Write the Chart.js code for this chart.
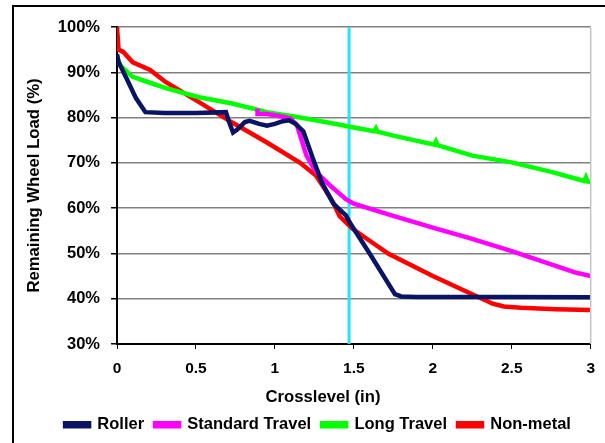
<!DOCTYPE html>
<html>
<head>
<meta charset="utf-8">
<script src="https://cdn.jsdelivr.net/npm/chart.js@4.4.1/dist/chart.umd.min.js"></script>
<style>
    html, body { margin: 0; padding: 0; background: #fff; overflow: hidden; }
    #wrap { position: relative; width: 605px; height: 443px; }
    #frame { position: absolute; left: 12px; top: 5px; width: 620px; height: 460px; border: 2px solid #000; pointer-events: none; }
</style>
</head>
<body>
<div id="wrap">
    <canvas id="chart" width="605" height="443"></canvas>
    <div id="frame"></div>
</div>
<script>
// crosslevel (in) vs remaining wheel load (%)
const rollerX = [0, 0.01, 0.06, 0.12, 0.18, 0.3, 0.5, 0.69, 0.71, 0.735, 0.76, 0.81, 0.84, 0.9, 0.95, 1.0, 1.05, 1.09, 1.13, 1.18, 1.24, 1.3, 1.37, 1.45, 1.48, 1.6, 1.76, 1.8, 1.9, 2.5, 3.0];
const rollerY = [94, 92.3, 88.7, 84.3, 81.2, 81, 81, 81.2, 79, 76.7, 77.3, 79, 79.3, 78.6, 78.2, 78.6, 79.2, 79.4, 78.6, 77, 71, 65.5, 61, 58.4, 56.5, 50, 41, 40.5, 40.4, 40.4, 40.3];

const standardX = [0.89, 0.89, 0.95, 1.0, 1.05, 1.1, 1.14, 1.2, 1.26, 1.35, 1.45, 1.5, 1.75, 2.0, 2.25, 2.5, 2.75, 2.9, 3.0];
const standardY = [82, 80.8, 80.8, 80.5, 80.2, 79.8, 78.3, 71.6, 68, 65, 62, 61, 58.3, 55.7, 53.2, 50.5, 47.6, 45.8, 45];

const longX = [0, 0.02, 0.1, 0.2, 0.31, 0.52, 0.73, 0.95, 1.16, 1.37, 1.5, 1.63, 1.64, 1.65, 1.75, 2.01, 2.02, 2.03, 2.25, 2.5, 2.75, 2.96, 2.97, 2.98, 3.0];
const longY = [93.4, 91.5, 89, 87.8, 86.5, 84.5, 83.1, 81.2, 80, 78.7, 77.8, 77, 77.6, 76.9, 76, 74, 74.7, 73.9, 71.6, 70.1, 68, 66, 66.8, 65.9, 65.7];

const nonMetalX = [0, 0.01, 0.04, 0.1, 0.21, 0.31, 0.52, 0.73, 0.95, 1.16, 1.26, 1.32, 1.37, 1.41, 1.49, 1.6, 1.72, 2.0, 2.25, 2.38, 2.45, 2.56, 2.78, 3.0];
const nonMetalY = [100, 95, 94.5, 92.2, 90.5, 87.8, 83.4, 78.9, 74.5, 70, 67.2, 64, 61.2, 58.2, 55.5, 52.8, 49.9, 45, 41, 38.9, 38.3, 38, 37.7, 37.5];

const markerX = [1.47, 1.47];
const markerY = [30, 100];

const xTicks = [0, 0.5, 1, 1.5, 2, 2.5, 3];
const xTickLabels = ['0', '0.5', '1', '1.5', '2', '2.5', '3'];
const yTicks = [30, 40, 50, 60, 70, 80, 90, 100];
const yTickLabels = ['30%', '40%', '50%', '60%', '70%', '80%', '90%', '100%'];

const xTitle = 'Crosslevel (in)';
const yTitle = 'Remaining Wheel Load (%)';

function points(xs, ys) {
    return xs.map((x, i) => ({ x, y: ys[i] }));
}

function line(label, xs, ys, color, width) {
    return {
        label,
        data: points(xs, ys),
        borderColor: color,
        backgroundColor: color,
        borderWidth: width,
        pointRadius: 0,
        tension: 0,
        fill: false
    };
}

const FONT = "'Liberation Sans', Arial, sans-serif";

// right edge of the plot + x axis title (sits a bit left of centre in the original)
const extras = {
    id: 'extras',
    afterLayout(chart) {
        chart.legend.left += 12;
        chart.legend.right += 12;
    },
    afterDraw(chart) {
        const a = chart.chartArea;
        const c = chart.ctx;
        c.save();
        c.strokeStyle = '#c4c4c4';
        c.lineWidth = 1.5;
        c.beginPath();
        c.moveTo(a.right, a.top);
        c.lineTo(a.right, a.bottom);
        c.stroke();
        c.fillStyle = '#000';
        c.font = 'bold 16.7px ' + FONT;
        c.textAlign = 'center';
        c.textBaseline = 'middle';
        c.fillText(xTitle, a.left + 206, a.bottom + 53);
        c.restore();
    }
};

new Chart(document.getElementById('chart').getContext('2d'), {
    type: 'line',
    data: {
        datasets: [
            line('Roller', rollerX, rollerY, '#0a1464', 4.5),
            line('Standard Travel', standardX, standardY, '#ff00ff', 4.5),
            line('Long Travel', longX, longY, '#00ff00', 4.5),
            line('Non-metal', nonMetalX, nonMetalY, '#ff0000', 4.5),
            line('marker', markerX, markerY, '#22e4ff', 3)
        ]
    },
    options: {
        responsive: false,
        animation: false,
        layout: { padding: { left: 20, right: 13, top: 27, bottom: 0 } },
        scales: {
            x: {
                type: 'linear',
                min: 0,
                max: 3,
                afterBuildTicks: s => { s.ticks = xTicks.map(v => ({ value: v })); },
                ticks: {
                    callback: (v) => xTickLabels[xTicks.indexOf(v)],
                    color: '#000',
                    font: { family: FONT, size: 15.5, weight: 'bold' },
                    padding: 10,
                    maxRotation: 0
                },
                grid: { drawOnChartArea: false, drawTicks: true, tickLength: 5, tickColor: '#000' },
                border: { color: '#000', width: 2 },
                afterFit: s => { s.height = 61.5; }
            },
            y: {
                min: 30,
                max: 100,
                afterBuildTicks: s => { s.ticks = yTicks.map(v => ({ value: v })); },
                ticks: {
                    callback: (v) => yTickLabels[yTicks.indexOf(v)],
                    color: '#000',
                    font: { family: FONT, size: 16.5, weight: 'bold' },
                    padding: 11
                },
                grid: { color: '#808080', lineWidth: 1.5, drawTicks: true, tickLength: 6, tickColor: '#000' },
                border: { color: '#000', width: 2 },
                title: {
                    display: true,
                    text: yTitle,
                    color: '#000',
                    font: { family: FONT, size: 16.7, weight: 'bold' },
                    padding: { top: 4, bottom: 0 }
                },
                afterFit: s => { s.width = 97; }
            }
        },
        plugins: {
            legend: {
                position: 'bottom',
                labels: {
                    filter: item => item.text !== 'marker',
                    color: '#000',
                    font: { family: FONT, size: 16.5, weight: 'bold' },
                    boxWidth: 24,
                    boxHeight: 3,
                    padding: 11
                }
            },
            tooltip: { enabled: false }
        }
    },
    plugins: [extras]
});
</script>
</body>
</html>
